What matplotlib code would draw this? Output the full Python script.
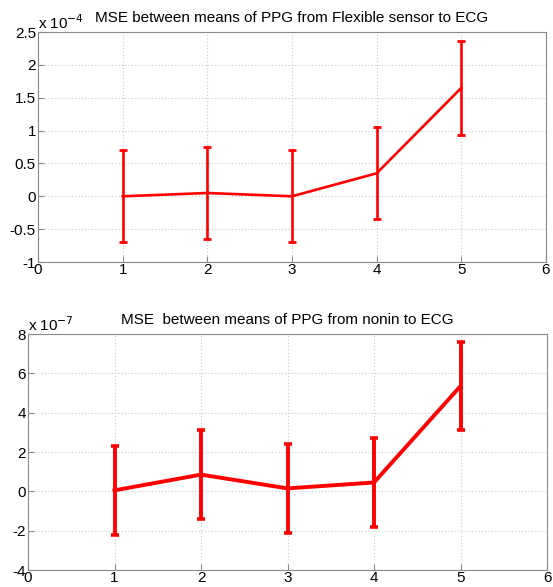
import matplotlib
matplotlib.use("Agg")
import matplotlib.pyplot as plt
from matplotlib.ticker import FuncFormatter

plt.rcParams['font.family'] = ['Liberation Sans', 'DejaVu Sans']

x = [1, 2, 3, 4, 5]
# Top: Flexible sensor (units 1e-4)
flex_mean = [0.0, 0.05, 0.0, 0.35, 1.65]
flex_err = [0.70, 0.70, 0.70, 0.70, 0.71]
# Bottom: nonin (units 1e-7)
nonin_mean = [0.05, 0.85, 0.15, 0.45, 5.35]
nonin_err = [2.25, 2.25, 2.25, 2.25, 2.25]

flex_scale = 1e-4
nonin_scale = 1e-7

W, H = 553, 587
fig = plt.figure(figsize=(W / 100, H / 100), dpi=100)

def px_axes(l, r, t, b):
    return fig.add_axes([l / W, 1 - b / H, (r - l) / W, (b - t) / H])

ax1 = px_axes(38, 546, 32, 262)
ax2 = px_axes(28, 547, 334, 570)

def style(ax, scale, exp, yticks, ylim, title, pad, fs=11):
    ax.set_xlim(0, 6)
    ax.set_xticks(range(0, 7))
    ax.set_ylim(ylim[0] * scale, ylim[1] * scale)
    ax.set_yticks([v * scale for v in yticks])
    ax.yaxis.set_major_formatter(FuncFormatter(lambda v, p: f"{v / scale:g}"))
    ax.grid(True, linestyle=(0, (1, 2)), color='#c8c8c8', linewidth=0.8)
    for s in ax.spines.values():
        s.set_color('#8a8a8a')
        s.set_linewidth(0.8)
    ax.tick_params(direction='in', length=4, color='#8a8a8a', labelsize=fs,
                   top=False, right=False, pad=1.5)
    ax.tick_params(axis='x', pad=1)
    ax.set_axisbelow(True)
    ax.set_title(title, fontsize=fs, pad=pad)
    ax.text(0.0, 1.0, r"x 10$^{" + exp + "}$", transform=ax.transAxes,
            fontsize=fs, ha='left', va='bottom')

style(ax1, flex_scale, "-4", [-1, -0.5, 0, 0.5, 1, 1.5, 2, 2.5], (-1, 2.5),
      "MSE between means of PPG from Flexible sensor to ECG", pad=7)
style(ax2, nonin_scale, "-7", [-4, -2, 0, 2, 4, 6, 8], (-4, 8),
      "MSE  between means of PPG from nonin to ECG", pad=7)

ax1.errorbar(x, [m * flex_scale for m in flex_mean],
             yerr=[e * flex_scale for e in flex_err],
             color='#ff0000', linewidth=1.9, elinewidth=1.9, capsize=2.6, capthick=2.0)
ax2.errorbar(x, [m * nonin_scale for m in nonin_mean],
             yerr=[e * nonin_scale for e in nonin_err],
             color='#ff0000', linewidth=2.8, elinewidth=2.8, capsize=2.6, capthick=2.6)

fig.savefig("out.png", dpi=100)
